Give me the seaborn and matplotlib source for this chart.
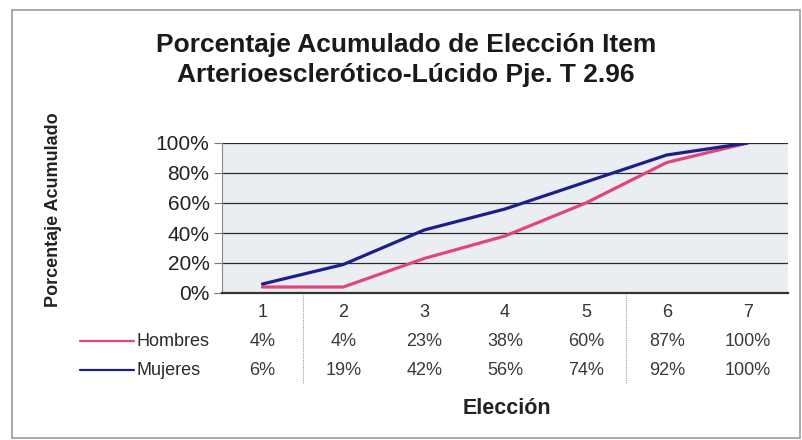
import matplotlib
matplotlib.use("Agg")
import matplotlib.pyplot as plt
import matplotlib.patches as mpatches
import matplotlib.lines as mlines
import seaborn as sns
import pandas as pd
import numpy as np

categorias = [1, 2, 3, 4, 5, 6, 7]
hombres = [4, 4, 23, 38, 60, 87, 100]
mujeres = [6, 19, 42, 56, 74, 92, 100]
series = ["Hombres", "Mujeres"]
colores = {"Hombres": "#e2457e", "Mujeres": "#1c1f8a"}
yticks = [0, 20, 40, 60, 80, 100]

df = pd.DataFrame({
    "Elección": categorias * 2,
    "Porcentaje": hombres + mujeres,
    "Serie": ["Hombres"] * len(categorias) + ["Mujeres"] * len(categorias),
})

sns.set_theme(style="white")
plt.rcParams["font.family"] = ["Liberation Sans", "DejaVu Sans"]

W, H = 802, 440
fig = plt.figure(figsize=(W / 100, H / 100), dpi=100)
fig.patch.set_facecolor("white")

# outer frame
fig.add_artist(mpatches.Rectangle((12 / W, 2 / H), (W - 14) / W, (H - 12) / H,
                                  transform=fig.transFigure, fill=False,
                                  edgecolor="#9a9a9a", linewidth=1.2))

left, right, top, bottom = 222, 788, 143, 293
ax = fig.add_axes([left / W, (H - bottom) / H, (right - left) / W, (bottom - top) / H])
ax.set_facecolor("#eaedf1")

sns.lineplot(data=df, x="Elección", y="Porcentaje", hue="Serie", palette=colores,
             linewidth=2.3, ax=ax, legend=False, zorder=3)

ax.set_xlim(0.5, 7.5)
ax.set_ylim(0, 100)
ax.set_yticks(yticks)
ax.set_yticklabels([f"{v}%" for v in yticks], fontsize=15, color="#222222")
ax.set_xticks(categorias)
ax.set_xticklabels([str(c) for c in categorias], fontsize=13, color="#333333")
ax.tick_params(axis="x", length=0, pad=8)
ax.tick_params(axis="y", length=6, width=0.8, color="#777777", pad=3, left=True)
for v in yticks[1:]:
    ax.axhline(v, color="#2a2a2a", linewidth=0.9, zorder=1)
for s in ["top", "right"]:
    ax.spines[s].set_visible(False)
ax.spines["left"].set_color("#888888")
ax.spines["left"].set_linewidth(0.8)
ax.spines["bottom"].set_color("#333333")
ax.spines["bottom"].set_linewidth(1.6)
ax.set_xlabel("")
ax.set_ylabel("")

# data table
tr = ax.get_xaxis_transform()
def ypos(py):
    return (bottom - py) / (bottom - top)

for c, h, m in zip(categorias, hombres, mujeres):
    ax.text(c, ypos(341), f"{h}%", transform=tr, ha="center", va="center",
            fontsize=13, color="#3a3a3a", clip_on=False)
    ax.text(c, ypos(370), f"{m}%", transform=tr, ha="center", va="center",
            fontsize=13, color="#3a3a3a", clip_on=False)

for xv in [1.5, 5.5]:
    ax.plot([xv, xv], [ypos(295), ypos(384)], transform=tr, color="#9a9a9a",
            linewidth=0.8, linestyle=(0, (1, 1)), clip_on=False)

for py, name in [(341, "Hombres"), (370, "Mujeres")]:
    fig.add_artist(mlines.Line2D([80 / W, 134 / W], [(H - py) / H] * 2,
                                 color=colores[name], linewidth=1.6,
                                 transform=fig.transFigure))
    fig.text(137 / W, (H - py) / H, name, ha="left", va="center",
             fontsize=13, color="#2a2a2a")

fig.text(507 / W, (H - 408) / H, "Elección", ha="center", va="center",
         fontsize=15.5, fontweight="bold", color="#222222")
fig.text(53 / W, (H - 210) / H, "Porcentaje Acumulado", ha="center", va="center",
         rotation=90, fontsize=13, fontweight="bold", color="#222222")
fig.text(406 / W, (H - 45) / H, "Porcentaje Acumulado de Elección Item",
         ha="center", va="center", fontsize=19, fontweight="bold", color="#1a1a1a")
fig.text(406 / W, (H - 75) / H, "Arterioesclerótico-Lúcido Pje. T 2.96",
         ha="center", va="center", fontsize=19, fontweight="bold", color="#1a1a1a")

fig.savefig("out.png", dpi=100)
